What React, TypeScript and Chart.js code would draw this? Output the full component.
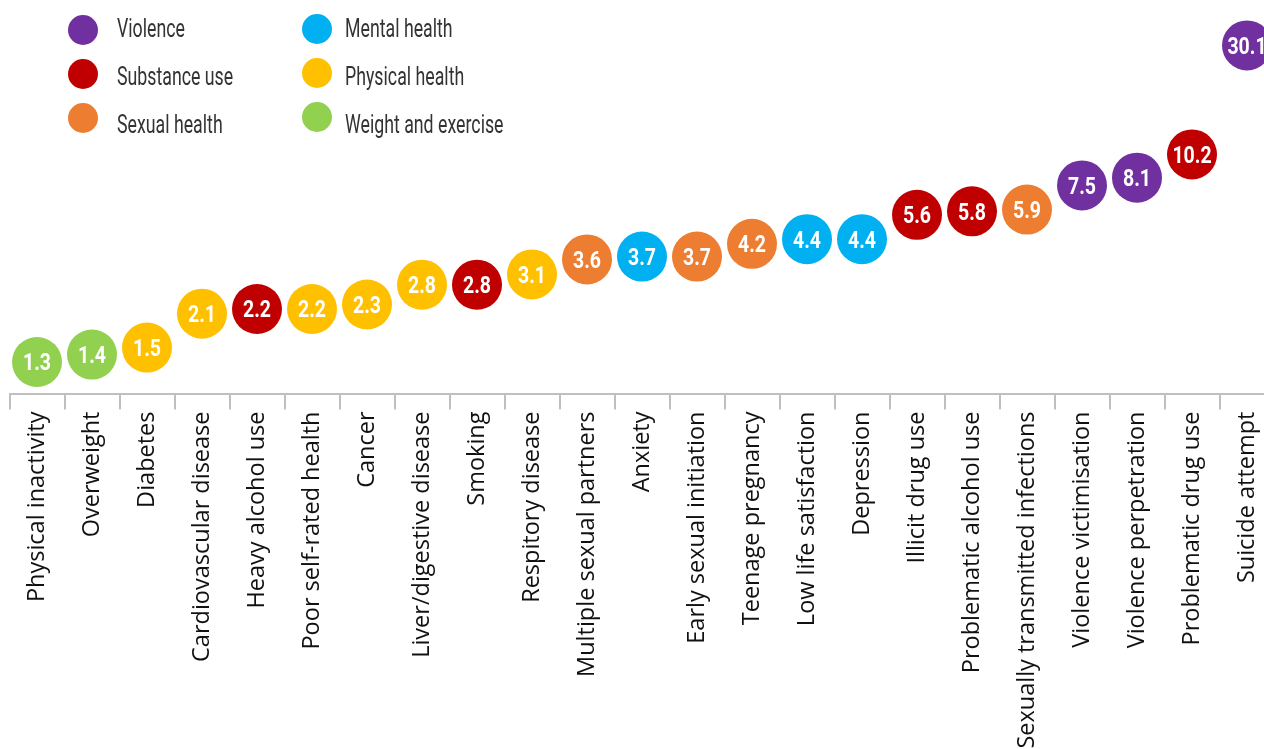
import React, { useEffect, useRef } from "react";
import { Chart, registerables } from "chart.js";

Chart.register(...registerables);

const categories = [
  "Physical inactivity",
  "Overweight",
  "Diabetes",
  "Cardiovascular disease",
  "Heavy alcohol use",
  "Poor self-rated health",
  "Cancer",
  "Liver/digestive disease",
  "Smoking",
  "Respitory disease",
  "Multiple sexual partners",
  "Anxiety",
  "Early sexual initiation",
  "Teenage pregnancy",
  "Low life satisfaction",
  "Depression",
  "Illicit drug use",
  "Problematic alcohol use",
  "Sexually transmitted infections",
  "Violence victimisation",
  "Violence perpetration",
  "Problematic drug use",
  "Suicide attempt",
];

const values = [
  1.3, 1.4, 1.5, 2.1, 2.2, 2.2, 2.3, 2.8, 2.8, 3.1, 3.6, 3.7, 3.7, 4.2, 4.4,
  4.4, 5.6, 5.8, 5.9, 7.5, 8.1, 10.2, 30.1,
];

const groups = [
  "Weight and exercise",
  "Weight and exercise",
  "Physical health",
  "Physical health",
  "Substance use",
  "Physical health",
  "Physical health",
  "Physical health",
  "Substance use",
  "Physical health",
  "Sexual health",
  "Mental health",
  "Sexual health",
  "Sexual health",
  "Mental health",
  "Mental health",
  "Substance use",
  "Substance use",
  "Sexual health",
  "Violence",
  "Violence",
  "Substance use",
  "Violence",
];

const legendGroups = [
  "Violence",
  "Substance use",
  "Sexual health",
  "Mental health",
  "Physical health",
  "Weight and exercise",
];

const groupColors = [
  "#7030A0",
  "#C00000",
  "#ED7D31",
  "#00B0F0",
  "#FFC000",
  "#92D050",
];

const colorOf = (g: string) => groupColors[legendGroups.indexOf(g)];

const valueLabelPlugin = {
  id: "valueLabels",
  afterDatasetsDraw(chart: any) {
    const ctx = chart.ctx;
    const meta = chart.getDatasetMeta(0);
    meta.data.forEach((pt: any, i: number) => {
      ctx.save();
      ctx.fillStyle = "#ffffff";
      ctx.font = "bold 23.5px Roboto, 'Noto Sans', sans-serif";
      ctx.textAlign = "center";
      ctx.textBaseline = "alphabetic";
      ctx.translate(pt.x, pt.y + 8.4);
      ctx.scale(0.83, 1);
      ctx.fillText(values[i].toFixed(1), 0, 0);
      ctx.restore();
    });
  },
};

const legendPos = [
  { cx: 83, cy: 30, tx: 117, ty: 28.3 },
  { cx: 83, cy: 74, tx: 117, ty: 76 },
  { cx: 83, cy: 118, tx: 117, ty: 124 },
  { cx: 317, cy: 29, tx: 345, ty: 28.3 },
  { cx: 317, cy: 73, tx: 345, ty: 76 },
  { cx: 317, cy: 117, tx: 345, ty: 124 },
];

export default function App() {
  const canvasRef = useRef<HTMLCanvasElement | null>(null);

  useEffect(() => {
    let chart: Chart | null = null;
    let cancelled = false;
    const fontsReady = Promise.all([
      document.fonts.load("23.5px 'Open Sans'"),
      document.fonts.load("bold 23.5px Roboto"),
      document.fonts.load("25px Roboto"),
    ]).catch(() => undefined);

    fontsReady.then(() => {
      if (cancelled || !canvasRef.current) return;
      chart = new Chart(canvasRef.current, {
        type: "scatter",
        data: {
          labels: categories,
          datasets: [
            {
              data: values.map((v, i) => ({ x: categories[i] as any, y: v })),
              backgroundColor: groups.map(colorOf),
              borderWidth: 0,
              pointRadius: 25,
              pointHoverRadius: 25,
            },
          ],
        },
        options: {
          responsive: false,
          animation: false,
          events: [],
          layout: {
            autoPadding: false,
            padding: { left: 9.5, right: 5.5, top: 0, bottom: 0 },
          },
          plugins: {
            legend: { display: false },
            tooltip: { enabled: false },
          },
          scales: {
            x: {
              type: "category",
              labels: categories,
              offset: true,
              grid: {
                offset: true,
                drawOnChartArea: false,
                drawTicks: true,
                tickLength: 16,
                color: "#bfbfbf",
                lineWidth: 2,
              },
              border: { display: true, color: "#bfbfbf", width: 2 },
              ticks: {
                autoSkip: false,
                minRotation: 90,
                maxRotation: 90,
                padding: 2,
                color: "#111111",
                font: { family: "'Open Sans', sans-serif", size: 23.5 },
              },
              afterFit: (s: any) => {
                s.height = 355.5;
                s.paddingLeft = 0;
                s.paddingRight = 0;
              },
            },
            y: {
              type: "logarithmic",
              display: false,
              bounds: "data",
              min: 0.951,
              max: 47.24,
            },
          },
        },
        plugins: [valueLabelPlugin],
      });
    });

    return () => {
      cancelled = true;
      if (chart) chart.destroy();
    };
  }, []);

  return (
    <div
      style={{
        position: "fixed",
        left: 0,
        top: 0,
        width: 1264,
        height: 749,
        overflow: "hidden",
        background: "#ffffff",
      }}
    >
      <canvas
        ref={canvasRef}
        width={1280}
        height={749}
        style={{ display: "block", width: 1280, height: 749 }}
      />
      {legendGroups.map((g, i) => (
        <React.Fragment key={g}>
          <div
            style={{
              position: "absolute",
              left: legendPos[i].cx - 15,
              top: legendPos[i].cy - 15,
              width: 30,
              height: 30,
              borderRadius: "50%",
              background: groupColors[i],
            }}
          />
          <div
            style={{
              position: "absolute",
              left: legendPos[i].tx,
              top: legendPos[i].ty - 12.1,
              height: 25,
              lineHeight: "25px",
              fontFamily: "Roboto, 'Noto Sans', sans-serif",
              fontSize: 25,
              color: "#333333",
              whiteSpace: "nowrap",
              transform: "scaleX(0.71)",
              transformOrigin: "0 0",
            }}
          >
            {g}
          </div>
        </React.Fragment>
      ))}
    </div>
  );
}
